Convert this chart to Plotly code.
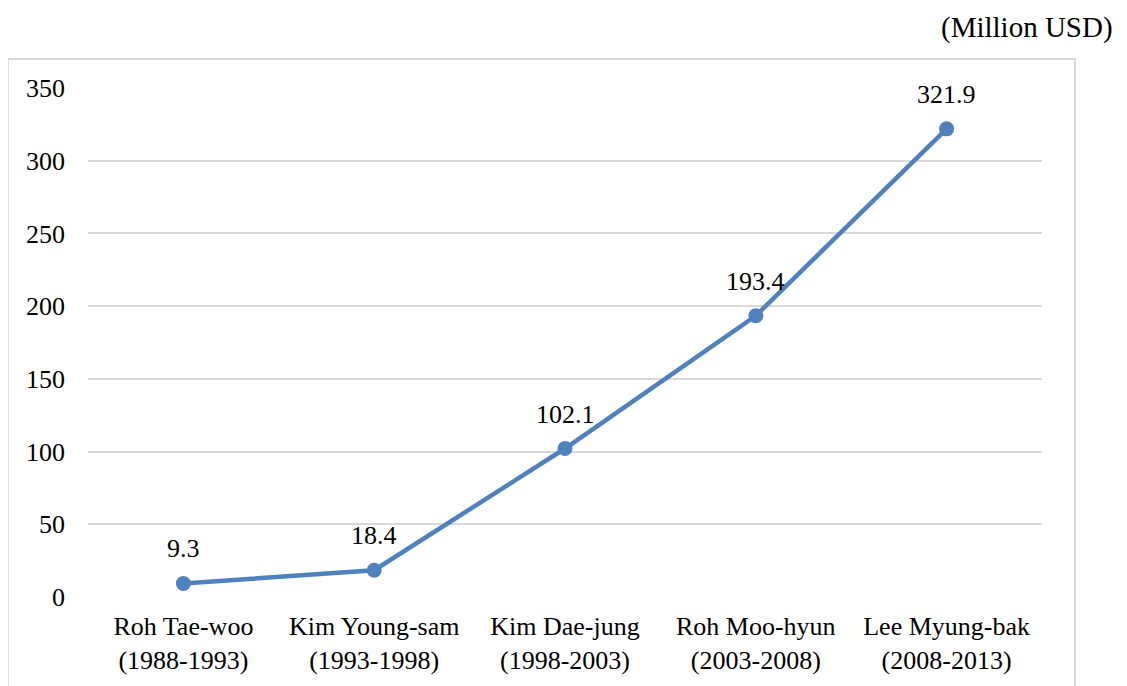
import plotly.graph_objects as go

presidents = ["Roh Tae-woo<br>(1988-1993)", "Kim Young-sam<br>(1993-1998)",
              "Kim Dae-jung<br>(1998-2003)", "Roh Moo-hyun<br>(2003-2008)",
              "Lee Myung-bak<br>(2008-2013)"]
values = [9.3, 18.4, 102.1, 193.4, 321.9]
y_ticks = [0, 50, 100, 150, 200, 250, 300, 350]

font_family = "Liberation Serif, Times New Roman, serif"
line_color = "#4f81bd"

fig = go.Figure()
fig.add_trace(go.Scatter(
    x=presidents, y=values, mode="lines+markers",
    line=dict(color=line_color, width=4.5),
    marker=dict(color=line_color, size=15),
    hoverinfo="skip", showlegend=False
))

# data labels
for x, v in zip(presidents, values):
    fig.add_annotation(x=x, y=v, text=f"{v:.1f}", showarrow=False,
                       yanchor="bottom", yshift=18,
                       font=dict(family=font_family, size=26, color="#000000"))

# unit label
fig.add_annotation(xref="paper", yref="paper", x=1.076, y=1.118,
                   xanchor="right", yanchor="middle", text="(Million USD)",
                   showarrow=False,
                   font=dict(family=font_family, size=29, color="#000000"))

# outer chart frame
fig.add_shape(type="rect", xref="paper", yref="paper",
              x0=-0.084, x1=1.0345, y0=-0.3, y1=1.057,
              line=dict(color="#d9d9d9", width=2), fillcolor="rgba(0,0,0,0)",
              layer="below")

fig.update_layout(
    width=1127, height=686,
    margin=dict(l=80, r=93, t=80, b=97),
    paper_bgcolor="white", plot_bgcolor="white",
    font=dict(family=font_family, size=26, color="#000000"),
    xaxis=dict(type="category", range=[-0.5, 4.5], showgrid=False,
               showline=False, zeroline=False, ticks="", ticklabelstandoff=11,
               tickfont=dict(family=font_family, size=26, color="#000000")),
    yaxis=dict(range=[0, 350], tickvals=y_ticks, showgrid=True,
               gridcolor="#d9d9d9", gridwidth=1.5, zeroline=False,
               showline=False, ticks="", ticklabelstandoff=22,
               tickfont=dict(family=font_family, size=26, color="#000000")),
)

fig.write_html("out.html")
